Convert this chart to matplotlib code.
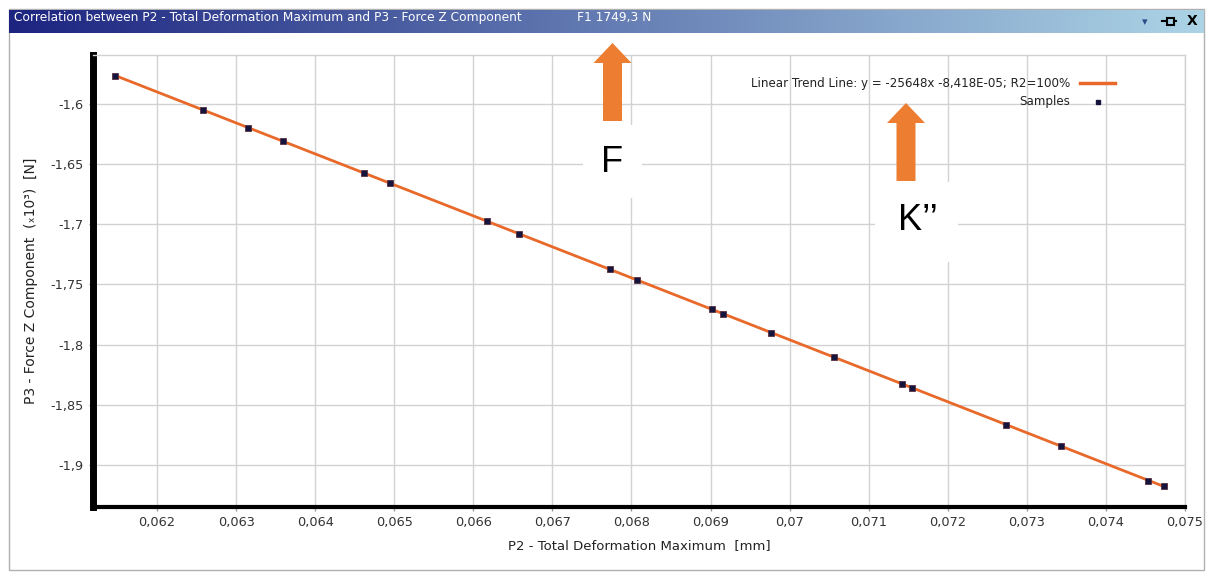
import numpy as np
import matplotlib
matplotlib.use("Agg")
import matplotlib.pyplot as plt
from matplotlib.patches import FancyArrow, Rectangle
from matplotlib.ticker import FuncFormatter, MultipleLocator

# samples: deformation [mm] and force Z [x10^3 N]
deformation = [0.061469, 0.062582, 0.063150, 0.063593, 0.064617, 0.064946,
               0.066172, 0.066577, 0.067727, 0.068068, 0.069016, 0.069155,
               0.069762, 0.070559, 0.071418, 0.071545, 0.072733, 0.073429,
               0.074528, 0.074731]
force_z = [-1.5767, -1.6050, -1.6199, -1.6307, -1.6573, -1.6656,
           -1.6972, -1.7080, -1.7370, -1.7462, -1.7703, -1.7744,
           -1.7902, -1.8101, -1.8326, -1.8359, -1.8666, -1.8841,
           -1.9131, -1.9173]

title = "Correlation between P2 - Total Deformation Maximum and P3 - Force Z Component"
trend_label = "Linear Trend Line: y = -25648x -8,418E-05; R2=100%"

W, H = 1211, 576
fig = plt.figure(figsize=(W / 100, H / 100), dpi=100)
fig.patch.set_facecolor("white")

# main plot area
ax = fig.add_axes([93 / W, 1 - 507 / H, (1185 - 93) / W, (507 - 55) / H])
ax.set_xlim(0.06119, 0.075)
ax.set_ylim(-1.9349, -1.5593)
ax.xaxis.set_major_locator(MultipleLocator(0.001))
ax.yaxis.set_major_locator(MultipleLocator(0.05))


def comma(v, pos):
    return f"{round(v, 6):g}".replace(".", ",")


ax.xaxis.set_major_formatter(FuncFormatter(comma))
ax.yaxis.set_major_formatter(FuncFormatter(comma))
ax.grid(True, color="#d2d2d2", linewidth=1)
ax.set_axisbelow(True)
for side in ("top", "right"):
    ax.spines[side].set_color("#d2d2d2")
    ax.spines[side].set_linewidth(1)
ax.spines["left"].set_linewidth(5)
ax.spines["bottom"].set_linewidth(3)
ax.tick_params(length=3, width=1, color="#999999", labelsize=9.3,
               labelcolor="#333333")

xs = np.array(deformation)
ys = np.array(force_z)
k, b = np.polyfit(xs, ys, 1)
xl = np.array([xs.min(), xs.max()])
ax.plot(xl, k * xl + b, color="#e8692a", linewidth=2, zorder=2)
ax.plot(xs, ys, linestyle="none", marker="s", markersize=4.5,
        markerfacecolor="#14143c", markeredgecolor="#5a3040",
        markeredgewidth=0.6, zorder=3)

ax.set_xlabel("P2 - Total Deformation Maximum  [mm]", fontsize=9.5,
              color="#222222", labelpad=7)
ax.set_ylabel("P3 - Force Z Component  (\u209310\u00b3)  [N]", fontsize=10,
              color="#222222", labelpad=9)

# overlay in pixel coordinates for the window chrome and annotations
ov = fig.add_axes([0, 0, 1, 1], zorder=5)
ov.set_xlim(0, W)
ov.set_ylim(H, 0)
ov.axis("off")
ov.patch.set_alpha(0)

# window border
ov.add_patch(Rectangle((9, 9), 1195, 561, fill=False, edgecolor="#b0b0b0",
                       linewidth=1))

# title bar gradient
grad = np.linspace(0, 1, 512)
c0 = np.array([28, 36, 128]) / 255
c1 = np.array([172, 212, 230]) / 255
bar = (c0[None, :] * (1 - grad[:, None]) + c1[None, :] * grad[:, None])[None, :, :]
ov.imshow(bar, extent=(9, 1204, 33, 10), aspect="auto", zorder=1)
ov.set_xlim(0, W)
ov.set_ylim(H, 0)
ov.text(14, 18, title, color="white", fontsize=8.8, va="center",
        family="DejaVu Sans", zorder=2)
ov.text(577, 18, "F1 1749,3 N", color="white", fontsize=8.8, va="center",
        family="DejaVu Sans", zorder=2)
ov.text(1145, 22, "\u25be", color="#2b4a8a", fontsize=8, ha="center",
        va="center", zorder=2)
ov.plot([1162, 1167], [21, 21], color="black", linewidth=1.5, zorder=2)
ov.add_patch(Rectangle((1167, 17.5), 7, 7, fill=False, edgecolor="black",
                       linewidth=1.5, zorder=2))
ov.plot([1174, 1176], [21, 21], color="black", linewidth=1.5, zorder=2)
ov.text(1192, 21, "X", color="black", fontsize=10, fontweight="bold",
        ha="center", va="center", zorder=2)

# legend
ov.text(1070, 83, trend_label, fontsize=8.6, ha="right", va="center",
        color="#222222")
ov.plot([1080, 1115], [83, 83], color="#e8692a", linewidth=2.5)
ov.text(1070, 102, "Samples", fontsize=8.6, ha="right", va="center",
        color="#222222")
ov.plot([1098], [102], marker="s", markersize=3.5, color="#14143c")

# orange arrows with labels
ov.add_patch(FancyArrow(612.5, 121, 0, -78, width=19, head_width=38,
                        head_length=20, length_includes_head=True,
                        color="#ed7d31", linewidth=0))
ov.add_patch(FancyArrow(906, 181, 0, -78, width=19, head_width=38,
                        head_length=20, length_includes_head=True,
                        color="#ed7d31", linewidth=0))
ov.add_patch(Rectangle((583, 125), 59, 73, color="white", linewidth=0))
ov.add_patch(Rectangle((875, 182), 83, 80, color="white", linewidth=0))
ov.text(612, 163, "F", fontsize=26, ha="center", va="center",
        family="Liberation Sans", color="black")
ov.text(918, 221, "K\u2019\u2019", fontsize=26, ha="center", va="center",
        family="Liberation Sans", color="black")

fig.savefig("out.png", dpi=100)
